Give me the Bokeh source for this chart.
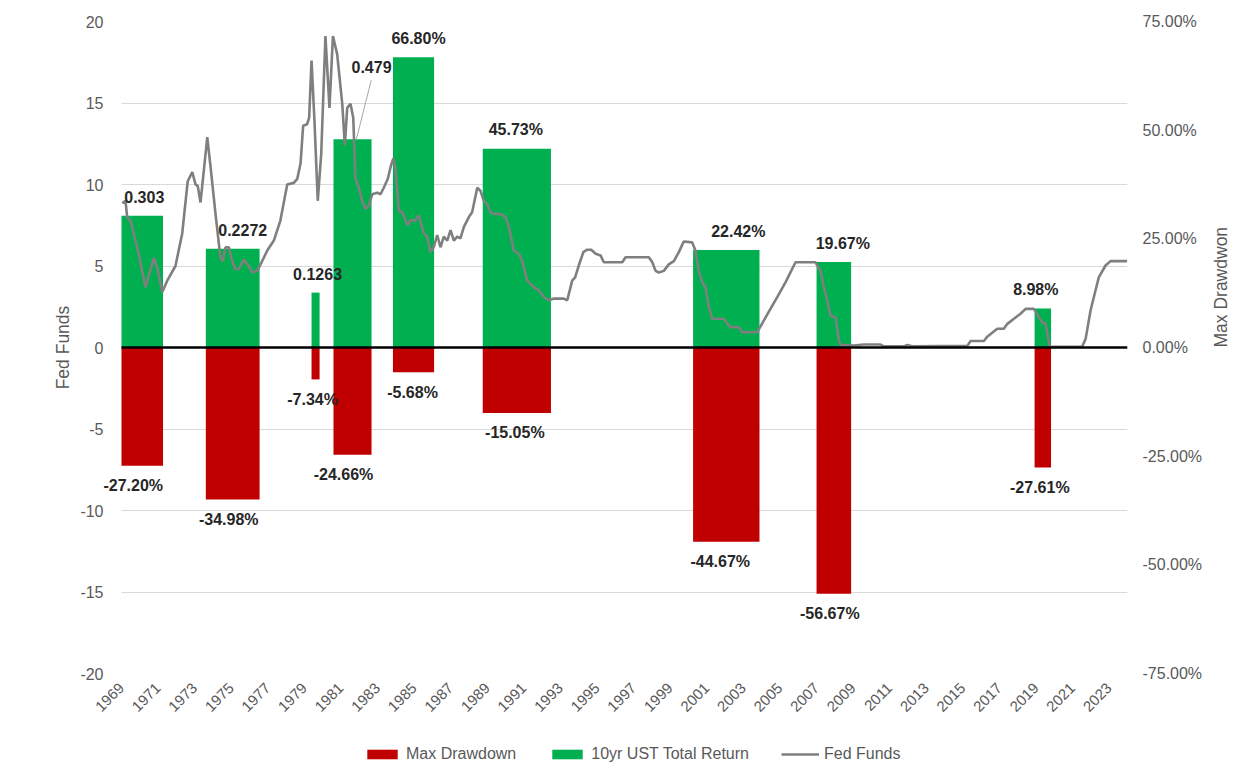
import math
from bokeh.plotting import figure
from bokeh.layouts import column
from bokeh.models import (Range1d, LinearAxis, FixedTicker, PrintfTickFormatter,
                          CustomJSTickFormatter, Legend, LegendItem, LabelSet,
                          ColumnDataSource)
from bokeh.embed import file_html
from bokeh.resources import INLINE
from bokeh.core.properties import value

# ---------------- data ----------------
fed_year = [1969.64, 1969.82, 1969.91, 1970.09, 1970.46, 1970.91, 1971.37, 1971.55, 1971.83, 1972.10,
            1972.55, 1972.92, 1973.22, 1973.47, 1973.65, 1973.77, 1973.92, 1974.29, 1974.47, 1974.74,
            1975.01, 1975.14, 1975.29, 1975.47, 1975.65, 1975.83, 1976.01, 1976.29, 1976.56, 1976.75,
            1977.02, 1977.29, 1977.57, 1977.93, 1978.29, 1978.66, 1979.02, 1979.21, 1979.39, 1979.53,
            1979.75, 1979.86, 1979.99, 1980.15, 1980.33, 1980.52, 1980.75, 1980.97, 1981.16, 1981.39,
            1981.67, 1981.81, 1981.94, 1982.12, 1982.27, 1982.39, 1982.57, 1982.76, 1982.94, 1983.12,
            1983.31, 1983.58, 1983.76, 1983.94, 1984.16, 1984.31, 1984.46, 1984.58, 1984.76, 1984.95,
            1985.13, 1985.22, 1985.40, 1985.67, 1985.86, 1986.13, 1986.31, 1986.49, 1986.67, 1986.86,
            1987.04, 1987.22, 1987.41, 1987.59, 1987.77, 1987.95, 1988.13, 1988.32, 1988.59, 1988.77,
            1989.05, 1989.23, 1989.41, 1989.59, 1989.77, 1989.96, 1990.32, 1990.60, 1990.78, 1991.05,
            1991.32, 1991.51, 1991.78, 1992.14, 1992.42, 1992.69, 1992.96, 1993.24, 1993.78, 1993.97,
            1994.24, 1994.40, 1994.65, 1994.85, 1995.06, 1995.28, 1995.52, 1995.79, 1995.97, 1996.43,
            1996.98, 1997.16, 1997.98, 1998.43, 1998.62, 1998.80, 1998.98, 1999.25, 1999.52, 1999.80,
            2000.07, 2000.34, 2000.80, 2000.98, 2001.16, 2001.35, 2001.53, 2001.71, 2001.90, 2002.53,
            2002.72, 2002.90, 2003.35, 2003.54, 2004.36, 2004.72, 2005.08, 2005.45, 2005.90, 2006.45,
            2007.54, 2007.82, 2008.00, 2008.18, 2008.36, 2008.64, 2008.82, 2008.91, 2009.64, 2010.18,
            2011.10, 2011.28, 2012.37, 2012.56, 2012.83, 2015.84, 2016.02, 2016.75, 2016.93, 2017.48,
            2017.84, 2018.03, 2018.39, 2018.75, 2019.03, 2019.48, 2019.75, 2019.94, 2020.12, 2020.35,
            2022.12, 2022.31, 2022.58, 2022.85, 2023.03, 2023.40, 2023.67, 2024.58]
fed_rate = [8.85, 9.0, 8.0, 7.8, 6.15, 3.7, 5.5, 4.9, 3.4, 4.1,
            5.0, 7.0, 10.2, 10.76, 10.0, 9.9, 8.9, 12.9, 11.06, 8.2,
            5.5, 5.3, 6.15, 6.15, 5.3, 4.8, 4.8, 5.4, 5.0, 4.6,
            4.7, 5.3, 5.95, 6.56, 7.8, 10.0, 10.1, 10.35, 11.3, 13.6,
            13.7, 14.1, 17.6, 13.9, 9.0, 11.9, 19.1, 14.7, 19.1, 18.0,
            14.95, 12.4, 14.7, 14.95, 14.1, 10.4, 9.8, 9.0, 8.5, 8.7,
            9.4, 9.5, 9.4, 9.8, 10.35, 11.06, 11.6, 11.06, 8.4, 8.3,
            7.8, 7.5, 7.8, 7.8, 8.1, 7.0, 6.8, 5.85, 6.15, 6.9,
            6.15, 6.8, 6.56, 7.2, 6.56, 6.8, 6.7, 7.4, 8.0, 8.3,
            9.8, 9.6, 9.0, 8.8, 8.3, 8.2, 8.2, 8.0, 7.4, 5.95,
            5.75, 5.3, 4.1, 3.7, 3.5, 3.1, 2.9, 3.0, 3.0, 2.9,
            4.1, 4.3, 5.2, 5.85, 6.0, 6.0, 5.75, 5.65, 5.23, 5.23,
            5.23, 5.54, 5.54, 5.54, 5.23, 4.7, 4.6, 4.7, 5.1, 5.3,
            5.85, 6.5, 6.45, 5.95, 4.7, 4.0, 3.7, 2.5, 1.76, 1.76,
            1.45, 1.25, 1.25, 0.94, 0.94, 1.66, 2.37, 3.09, 4.0, 5.23,
            5.23, 4.7, 3.7, 2.9, 1.96, 1.86, 0.43, 0.16, 0.12, 0.18,
            0.18, 0.07, 0.07, 0.15, 0.07, 0.1, 0.4, 0.4, 0.66, 1.15,
            1.15, 1.45, 1.76, 2.07, 2.37, 2.37, 1.86, 1.55, 1.45, 0.05,
            0.05, 0.53, 2.27, 3.5, 4.3, 5.03, 5.3, 5.3]

period_start = [1969.60, 1974.21, 1979.99, 1981.19, 1984.44, 1989.35, 2000.85, 2007.60, 2019.52]
period_end = [1971.87, 1977.15, 1980.43, 1983.27, 1986.69, 1993.08, 2004.48, 2009.49, 2020.42]
ust_return = [30.3, 22.72, 12.63, 47.9, 66.80, 45.73, 22.42, 19.67, 8.98]
ust_label = ["0.303", "0.2272", "0.1263", "0.479", "66.80%", "45.73%", "22.42%", "19.67%", "8.98%"]
max_dd = [-27.20, -34.98, -7.34, -24.66, -5.68, -15.05, -44.67, -56.67, -27.61]
dd_label = ["-27.20%", "-34.98%", "-7.34%", "-24.66%", "-5.68%", "-15.05%", "-44.67%", "-56.67%", "-27.61%"]

left_ticks = [-20, -15, -10, -5, 0, 5, 10, 15, 20]
right_ticks = [-75, -50, -25, 0, 25, 50, 75]
first_label_year = 1969.6
label_step = 2
n_labels = 28

# ---------------- layout constants ----------------
X0, X1 = 1969.6, 2024.6          # span of the dated axis
PLOT_W, FRAME_H = 1006, 652      # pixel size of the dated plot area
PX_YEAR = PLOT_W / (X1 - X0)
PX_PCT = FRAME_H / 150.0
LEFT_PAD = 26                    # extra room left of the axis so labels are not clipped
XSTART = X0 - LEFT_PAD / PX_YEAR
BORDER_L, BORDER_R = 95, 120
FIG_W = BORDER_L + LEFT_PAD + PLOT_W + BORDER_R
MAIN_H = 733
LEG_H = 48

# label pixel offsets (style only)
ust_dx = [2, 10, 2, 19, 5, -1, 12, 9, -7]
dd_dx = [-9, -4, -3, -9, -1, -2, -6, -4, -3]

GREEN = "#00B050"
RED = "#C00000"
GREY = "#7F7F7F"
TXT = "#595959"
FONT = "Liberation Sans"

p = figure(width=FIG_W, height=MAIN_H,
           x_range=Range1d(XSTART, X1), y_range=Range1d(-20, 20),
           output_backend="svg", toolbar_location=None,
           min_border_left=BORDER_L, min_border_right=BORDER_R, min_border_top=21,
           min_border_bottom=MAIN_H - 21 - FRAME_H)
p.outline_line_color = None
p.background_fill_color = "white"
p.extra_y_ranges = {"dd": Range1d(-75, 75)}

# grid
p.xgrid.visible = False
p.ygrid.ticker = FixedTicker(ticks=left_ticks)
p.ygrid.grid_line_color = "#D9D9D9"
p.ygrid.grid_line_width = 1
p.ygrid.cross_bounds = (X0, X1)

# left axis
ya = p.yaxis[0]
ya.ticker = FixedTicker(ticks=left_ticks)
ya.formatter = PrintfTickFormatter(format="%d")
ya.axis_line_color = None
ya.major_tick_line_color = None
ya.minor_tick_line_color = None
ya.major_label_text_font = FONT
ya.major_label_text_font_size = "16px"
ya.major_label_text_color = TXT
ya.major_label_standoff = -14
ya.axis_label = "Fed Funds"
ya.axis_label_text_font = FONT
ya.axis_label_text_font_style = "normal"
ya.axis_label_text_font_size = "17.5px"
ya.axis_label_text_color = TXT
ya.axis_label_standoff = 4

# right axis
ra = LinearAxis(y_range_name="dd", ticker=FixedTicker(ticks=right_ticks),
                formatter=PrintfTickFormatter(format="%.2f%%"))
ra.axis_line_color = None
ra.major_tick_line_color = None
ra.minor_tick_line_color = None
ra.major_label_text_font = FONT
ra.major_label_text_font_size = "16px"
ra.major_label_text_color = TXT
ra.major_label_standoff = 9
ra.axis_label = "Max Drawdwon"
ra.axis_label_orientation = math.pi / 2
ra.axis_label_text_font = FONT
ra.axis_label_text_font_style = "normal"
ra.axis_label_text_font_size = "17.5px"
ra.axis_label_text_color = TXT
ra.axis_label_standoff = 16
p.add_layout(ra, "right")

# x axis
xa = p.xaxis[0]
xa.ticker = FixedTicker(ticks=[first_label_year + label_step * k for k in range(n_labels)])
xa.formatter = CustomJSTickFormatter(code="return Math.floor(tick + 1e-6).toString();")
xa.major_label_orientation = math.pi / 4
xa.axis_line_color = None
xa.major_tick_line_color = None
xa.minor_tick_line_color = None
xa.major_label_text_font = FONT
xa.major_label_text_font_size = "15px"
xa.major_label_text_color = TXT
xa.major_label_standoff = 6

# bars
r_dd = p.quad(left=period_start, right=period_end, bottom=0, top=max_dd, y_range_name="dd",
              fill_color=RED, line_color=None)
r_ust = p.quad(left=period_start, right=period_end, bottom=0, top=ust_return, y_range_name="dd",
               fill_color=GREEN, line_color=None)

# fed funds line
r_fed = p.line(fed_year, fed_rate, line_color=GREY, line_width=2.6)

# zero (category axis) line
p.segment(x0=[X0], y0=[0], x1=[X1], y1=[0], line_color="black", line_width=2.5)

# data labels
centers = [(a + b) / 2 for a, b in zip(period_start, period_end)]
ust_y = []
for i, v in enumerate(ust_return):
    if ust_label[i] == "0.479":
        ust_y.append(v + 72 / PX_PCT)
    else:
        ust_y.append(v + 19 / PX_PCT)
ust_src = ColumnDataSource(dict(x=[c + d / PX_YEAR for c, d in zip(centers, ust_dx)], y=ust_y, t=ust_label))
dd_src = ColumnDataSource(dict(x=[c + d / PX_YEAR for c, d in zip(centers, dd_dx)],
                               y=[v - 20 / PX_PCT for v in max_dd], t=dd_label))
for src in (ust_src, dd_src):
    p.add_layout(LabelSet(x="x", y="y", text="t", source=src, y_range_name="dd",
                          text_align="center", text_baseline="middle",
                          text_font=value(FONT), text_font_style="bold",
                          text_font_size="16px", text_color="#262626"))

# leader line for the displaced "0.479" label
k = ust_label.index("0.479")
p.segment(x0=[centers[k] + 18.7 / PX_YEAR], y0=[ust_return[k] + 59 / PX_PCT],
          x1=[centers[k] + 4 / PX_YEAR], y1=[ust_return[k] + 0.5 / PX_PCT],
          y_range_name="dd", line_color="#A6A6A6", line_width=1)

# ---------------- legend strip (separate small figure below) ----------------
lg = figure(width=FIG_W, height=LEG_H, x_range=Range1d(0, 1), y_range=Range1d(0, 1),
            output_backend="svg", toolbar_location=None,
            min_border_left=BORDER_L, min_border_right=BORDER_R, min_border_top=0, min_border_bottom=0)
lg.axis.visible = False
lg.grid.visible = False
lg.outline_line_color = None
nan = float("nan")
k_dd = lg.quad(left=[nan], right=[nan], bottom=[nan], top=[nan], fill_color=RED, line_color=None)
k_ust = lg.quad(left=[nan], right=[nan], bottom=[nan], top=[nan], fill_color=GREEN, line_color=None)
k_fed = lg.line(x=[nan], y=[nan], line_color=GREY, line_width=2.6)
legend = Legend(items=[LegendItem(label="Max Drawdown", renderers=[k_dd]),
                       LegendItem(label="10yr UST Total Return", renderers=[k_ust]),
                       LegendItem(label="Fed Funds", renderers=[k_fed])],
                orientation="horizontal", location=(363 - BORDER_L, LEG_H - 21 - 10))
legend.glyph_width = 38
legend.glyph_height = 12
legend.label_height = 20
legend.label_standoff = 5
legend.spacing = 32
legend.padding = 0
legend.margin = 0
legend.border_line_color = None
legend.background_fill_alpha = 0
legend.label_text_font = FONT
legend.label_text_font_size = "16px"
legend.label_text_color = TXT
lg.add_layout(legend, "center")

layout = column(p, lg, spacing=0)
open("out.html", "w").write(file_html(layout, INLINE))
